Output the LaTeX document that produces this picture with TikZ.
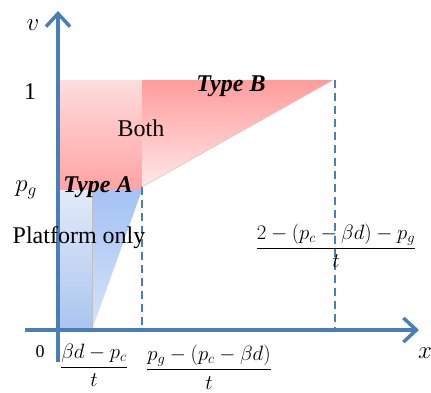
\documentclass[tikz,border=0pt]{standalone}
\usepackage{fontspec}
\setmainfont{Liberation Serif}
\usetikzlibrary{arrows.meta}
\definecolor{axisblue}{HTML}{4A7EBB}
\definecolor{pinkA}{HTML}{FFDCDC}
\definecolor{pinkB}{HTML}{FFA3A3}
\definecolor{pinkD}{HTML}{FF9C9C}
\definecolor{pinkE}{HTML}{FFE8E8}
\definecolor{blueA}{HTML}{E2EAF8}
\definecolor{blueB}{HTML}{AAC5F0}
\definecolor{blueC}{HTML}{A4C2F4}
\definecolor{blueD}{HTML}{D6E3F8}
\begin{document}
\begin{tikzpicture}[x=1pt,y=-1pt,
  font=\fontsize{24}{28}\selectfont,
  axis/.style={line width=3.5pt, draw=axisblue, -{Straight Barb[length=13pt,width=24pt,line width=3.5pt]}},
  guide/.style={draw=axisblue, line width=2.2pt, dash pattern=on 8pt off 5pt},
  lbl/.style={inner sep=0pt, text=black},
  fr/.style={inner sep=0pt, text=black, font=\fontsize{21}{25}\selectfont}]
\useasboundingbox (0,0) rectangle (431,392);
% regions
\shade[top color=pinkA, bottom color=pinkB] (60,80) rectangle (142,190);
\shade[top color=pinkD, bottom color=pinkE] (142,80) -- (333,80) -- (142,187) -- cycle;
\draw[gray!40, line width=0.6pt] (142,187) -- (333,80);
\shade[top color=blueA, bottom color=blueB] (60,190) rectangle (92,330);
\shade[top color=blueC, bottom color=blueD] (92,190) -- (142,190) -- (92,330) -- cycle;
\draw[gray!50, line width=0.6pt] (92,190) -- (92,330);
% guides
\coordinate (g1t) at (142,187); \coordinate (g1b) at (142,330);
\coordinate (g2t) at (335,80);  \coordinate (g2b) at (335,330);
\draw[guide] (g1t) -- (g1b);
\draw[guide] (g2t) -- (g2b);
% axes
\coordinate (yb) at (58,362); \coordinate (yt) at (58,11);
\coordinate (xl) at (25,330); \coordinate (xr) at (419,330);
\draw[axis] (yb) -- (yt);
\draw[axis] (xl) -- (xr);
% labels
\node[lbl] (v) at (33,25) {$v$};
\node[lbl] (x) at (425,353) {$x$};
\node[lbl] (one) at (30,92) {1};
\node[lbl] (pg) at (26,190) {$p_g$};
\node[lbl, font=\fontsize{18}{22}\selectfont] (zero) at (40,352) {0};
\node[lbl] (both) at (141,128) {Both};
\node[lbl, font=\fontsize{24}{28}\selectfont\bfseries\itshape] (tb) at (231,86) {Type B};
\node[lbl, font=\fontsize{24}{28}\selectfont\bfseries\itshape] (ta) at (98,187) {Type A};
\node[lbl] (plat) at (79,238) {Platform only};
\node[fr, anchor=north] (f1) at (94,344) {$\displaystyle\frac{\beta d-p_c}{t}$};
\node[fr, anchor=north] (f2) at (209,345) {$\displaystyle\frac{p_g-(p_c-\beta d)}{t}$};
\node[fr] (f3) at (336,246) {$\displaystyle\frac{2-(p_c-\beta d)-p_g}{t}$};
\end{tikzpicture}
\end{document}
